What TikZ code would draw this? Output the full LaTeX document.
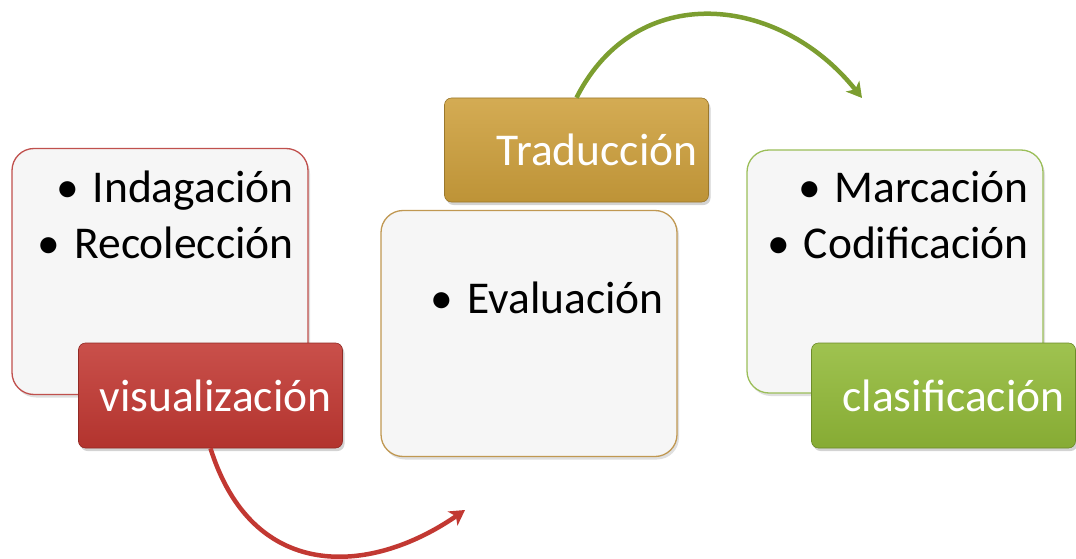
\documentclass[tikz,border=0pt]{standalone}
\usepackage{fontspec}
\setmainfont{Carlito}
\usetikzlibrary{arrows.meta,shadows,positioning}
\definecolor{visred}{RGB}{194,56,50}
\definecolor{tradgold}{RGB}{206,160,60}
\definecolor{clasgreen}{RGB}{146,186,56}
\definecolor{cardfill}{RGB}{246,246,246}
\definecolor{cardred}{RGB}{192,80,77}
\definecolor{cardgold}{RGB}{192,152,82}
\definecolor{cardgreen}{RGB}{155,190,89}
\newcommand{\cardfont}{\fontsize{45.5}{56}\selectfont}
\tikzset{
  card/.style={draw=#1, line width=1.3pt, fill=cardfill, rounded corners=22pt,
    minimum width=296pt, minimum height=246pt, inner sep=0pt,
    drop shadow={opacity=0.25, shadow xshift=2pt, shadow yshift=-3pt}},
  tag/.style={draw=#1!75!black, line width=0.6pt, top color=#1!88!white, bottom color=#1!92!black,
    rounded corners=7pt, minimum width=264pt, minimum height=105pt, text width=242pt,
    inner xsep=11pt, align=right, text=white, font=\cardfont,
    drop shadow={opacity=0.35, shadow xshift=2pt, shadow yshift=-3pt}},
  items/.style={align=right, font=\cardfont, inner sep=0pt},
  flow/.style={draw=#1, line width=4.5pt, -{Stealth[length=15pt,width=17pt,inset=4pt]}}
}
\begin{document}
\begin{tikzpicture}[x=1pt,y=-1pt]
  \useasboundingbox (0,0) rectangle (1076,559);
  % cards
  \node[card=cardred] (card1) at (160,271.5) {};
  \node[card=cardgold] (card2) at (529,333.5) {};
  \node[card=cardgreen, minimum height=243pt] (card3) at (895,271.5) {};
  % base is the last line of each list
  \node[items, anchor=base east] (list1) at (294,258) {•\hspace{14pt}Indagación\\•\hspace{14pt}Recolección};
  \node[items, anchor=base east] (list2) at (664,313) {•\hspace{14pt}Evaluación};
  \node[items, anchor=base east] (list3) at (1029,258) {•\hspace{14pt}Marcación\\•\hspace{14pt}Codificación};
  % tags
  \node[tag=visred] (vis) at (210.5,395.5) {visualización};
  \node[tag=tradgold, minimum height=104pt] (trad) at (576.5,150) {Traducción};
  \node[tag=clasgreen] (clas) at (943.5,395.5) {clasificación};
  % arrows
  \coordinate (visend) at (465,510);
  \coordinate (tradend) at (862,98);
  \draw[flow=visred] (vis.south) .. controls (252,581) and (368,577) .. (visend);
  \draw[flow=clasgreen!85!black] (trad.north) .. controls (636,-20) and (779,-6) .. (tradend);
\end{tikzpicture}
\end{document}
